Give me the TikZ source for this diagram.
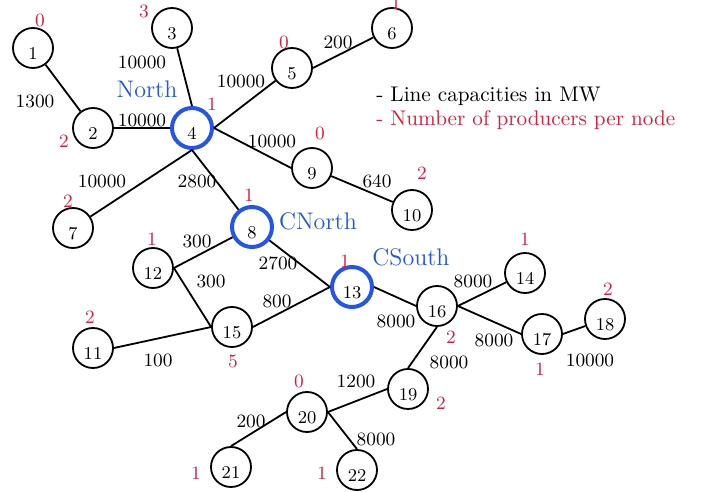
\documentclass[tikz,border=0pt]{standalone}
\definecolor{prodred}{RGB}{220,30,60}
\definecolor{hubblue}{RGB}{35,85,235}
\tikzset{
  bus/.style={circle, draw, line width=0.9pt, minimum size=20pt, inner sep=0pt, font=\small, text height=2.6ex, text depth=0pt},
  hub/.style={bus, draw=hubblue, line width=2pt},
  prod/.style={text=prodred, font=\fontsize{9.4}{11}\selectfont, inner sep=0pt},
  capl/.style={font=\fontsize{9.4}{11}\selectfont, inner sep=0pt},
  area/.style={text=hubblue, font=\large, inner sep=0pt},
  link/.style={line width=0.9pt},
  legend/.style={anchor=west, inner sep=0pt, font=\fontsize{10.6}{12}\selectfont}
}
\begin{document}
\begin{tikzpicture}[x=0.5pt,y=-0.5pt]
\useasboundingbox (0,0) rectangle (708,492);
% buses
\node[bus] (n1) at (33,48) {1};
\node[bus] (n2) at (93,128) {2};
\node[bus] (n3) at (172,28) {3};
\node[hub] (n4) at (192,128) {4};
\node[bus] (n5) at (292,68) {5};
\node[bus] (n6) at (392,28) {6};
\node[bus] (n7) at (73,228) {7};
\node[hub] (n8) at (252,227) {8};
\node[bus] (n9) at (312,168) {9};
\node[bus] (n10) at (412,210) {10};
\node[bus] (n11) at (93,348) {11};
\node[bus] (n12) at (153,268) {12};
\node[hub] (n13) at (352,287) {13};
\node[bus] (n14) at (525,273) {14};
\node[bus] (n15) at (232,327) {15};
\node[bus] (n16) at (437,306) {16};
\node[bus] (n17) at (542,334) {17};
\node[bus] (n18) at (605,319) {18};
\node[bus] (n19) at (408,389) {19};
\node[bus] (n20) at (307,412) {20};
\node[bus] (n21) at (231,467) {21};
\node[bus] (n22) at (357,470) {22};
% lines
\draw[link] (n1) -- (n2);
\draw[link] (n3) -- (n4.north);
\draw[link] (n2.east) -- (n4.west);
\draw[link] (n4.east) -- (n5);
\draw[link] (n5.east) -- (n6);
\draw[link] (n4.east) -- (n9.west);
\draw[link] (n9) -- (n10);
\draw[link] (n4.south) -- (n7);
\draw[link] (n4.south) -- (n8);
\draw[link] (n12.east) -- (n8);
\draw[link] (n12.east) -- (n15.west);
\draw[link] (n8) -- (n13.west);
\draw[link] (n15.east) -- (n13.west);
\draw[link] (n11.east) -- (n15.west);
\draw[link] (n13.east) -- (n16.west);
\draw[link] (n16.east) -- (n14);
\draw[link] (n16.east) -- (n17.west);
\draw[link] (n17.east) -- (n18);
\draw[link] (n19.north) -- (n16.south);
\draw[link] (n20.east) -- (n19.west);
\draw[link] (n20.west) -- (n21.north);
\draw[link] (n20.east) -- (n22.north);
% capacities
\node[capl] (c12) at (35,101) {1300};
\node[capl] (c34) at (142,62) {10000};
\node[capl] (c24) at (142,120) {10000};
\node[capl] (c45) at (241,81) {10000};
\node[capl] (c56) at (338,42) {200};
\node[capl] (c49) at (272,141) {10000};
\node[capl] (c910) at (377,181) {640};
\node[capl] (c47) at (102,181) {10000};
\node[capl] (c48) at (197,181) {2800};
\node[capl] (c128) at (197,241) {300};
\node[capl] (c1215) at (211,281) {300};
\node[capl] (c813) at (278,263) {2700};
\node[capl] (c1513) at (277,301) {800};
\node[capl] (c1115) at (158,360) {100};
\node[capl] (c1316) at (396,321) {8000};
\node[capl] (c1614) at (473,281) {8000};
\node[capl] (c1617) at (494,340) {8000};
\node[capl] (c1718) at (590,360) {10000};
\node[capl] (c1619) at (449,362) {8000};
\node[capl] (c2019) at (356,381) {1200};
\node[capl] (c2021) at (251,421) {200};
\node[capl] (c2022) at (376,439) {8000};
% producers
\node[prod] (p1) at (40,20) {0};
\node[prod] (p2) at (64,141) {2};
\node[prod] (p3) at (144,11) {3};
\node[prod] (p4) at (212,104) {1};
\node[prod] (p5) at (284,42) {0};
\node[prod] (p6) at (396,3) {1};
\node[prod] (p7) at (68,201) {2};
\node[prod] (p8) at (249,195) {1};
\node[prod] (p9) at (320,133) {0};
\node[prod] (p10) at (422,173) {2};
\node[prod] (p11) at (90,317) {2};
\node[prod] (p12) at (152,239) {1};
\node[prod] (p13) at (345,261) {1};
\node[prod] (p14) at (525,239) {1};
\node[prod] (p15) at (233,361) {5};
\node[prod] (p16) at (451,337) {2};
\node[prod] (p17) at (540,369) {1};
\node[prod] (p18) at (608,289) {2};
\node[prod] (p19) at (441,403) {2};
\node[prod] (p20) at (299,381) {0};
\node[prod] (p21) at (196,473) {1};
\node[prod] (p22) at (322,473) {1};
% areas
\node[area] (aN) at (147,89) {North};
\node[area] (aCN) at (318,221) {CNorth};
\node[area] (aCS) at (411,257) {CSouth};
% legend
\node[legend] (l1) at (376,96) {- Line capacities in MW};
\node[legend, text=prodred] (l2) at (376,120) {- Number of producers per node};
\end{tikzpicture}
\end{document}
